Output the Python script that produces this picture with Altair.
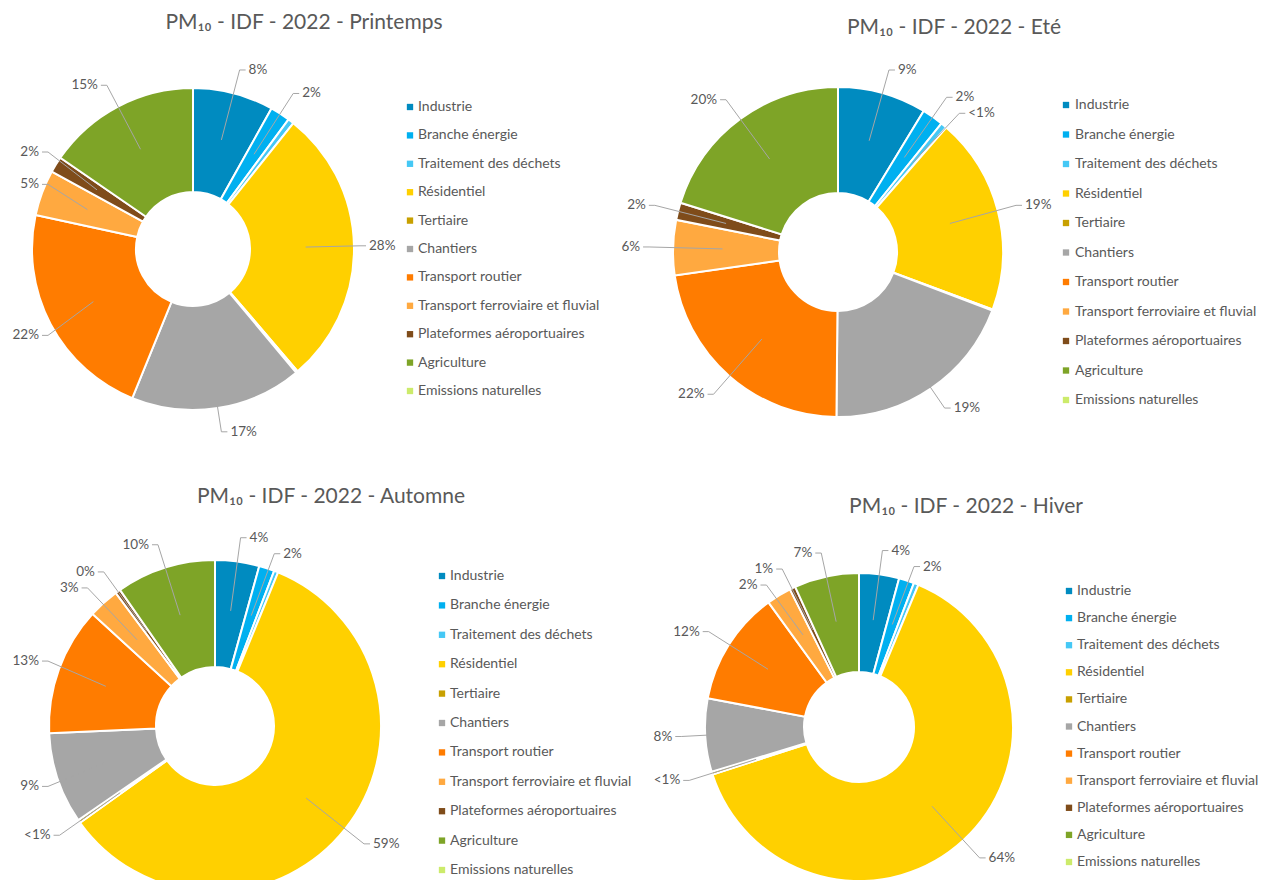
import math
import altair as alt
import pandas as pd

# ---------------- data ----------------
categories = [
    "Industrie", "Branche énergie", "Traitement des déchets", "Résidentiel",
    "Tertiaire", "Chantiers", "Transport routier",
    "Transport ferroviaire et fluvial", "Plateformes aéroportuaires",
    "Agriculture", "Emissions naturelles",
]
colors = [
    "#008BC0", "#00B0F0", "#45C8F5", "#FFD000", "#C8A000", "#A6A6A6",
    "#FF7C00", "#FFA940", "#7F4C1A", "#7EA427", "#CCEB6B",
]
seasons = ["Printemps", "Eté", "Automne", "Hiver"]

printemps_values = [8.1, 2.0, 0.6, 28.0, 0.2, 17.2, 22.2, 4.6, 1.6, 15.4, 0.0]
ete_values = [8.7, 2.1, 0.6, 19.3, 0.1, 19.4, 22.6, 5.4, 1.7, 20.2, 0.0]
automne_values = [4.3, 1.5, 0.4, 58.9, 0.3, 8.9, 12.5, 3.0, 0.5, 9.7, 0.0]
hiver_values = [4.2, 1.6, 0.5, 63.7, 0.3, 7.7, 12.0, 2.6, 0.6, 6.8, 0.0]

printemps_labels = ["8%", "2%", "", "28%", "", "17%", "22%", "5%", "2%", "15%", ""]
ete_labels = ["9%", "2%", "<1%", "19%", "", "19%", "22%", "6%", "2%", "20%", ""]
automne_labels = ["4%", "2%", "", "59%", "<1%", "9%", "13%", "3%", "0%", "10%", ""]
hiver_labels = ["4%", "2%", "", "64%", "<1%", "8%", "12%", "2%", "1%", "7%", ""]

season_values = {"Printemps": printemps_values, "Eté": ete_values,
                 "Automne": automne_values, "Hiver": hiver_values}
season_labels = {"Printemps": printemps_labels, "Eté": ete_labels,
                 "Automne": automne_labels, "Hiver": hiver_labels}

# ---------------- layout (page pixels) ----------------
W, H = 1261, 872
FONT = "Lato"
layout = {
    "Printemps": dict(cx=193, cy=249, R=161, r=57, tx=304, ty=23, lsx=410, ltx=418, ly0=107, ldy=28.4),
    "Eté": dict(cx=838, cy=252, R=165, r=59, tx=954, ty=28, lsx=1066, ltx=1075, ly0=105, ldy=29.5),
    "Automne": dict(cx=215, cy=726, R=166, r=59, tx=331, ty=497, lsx=442, ltx=450, ly0=576, ldy=29.4),
    "Hiver": dict(cx=859, cy=727, R=154, r=55, tx=966, ty=507, lsx=1069, ltx=1077, ly0=591, ldy=27.1),
}

xs = alt.Scale(domain=[8, 8 + W], nice=False, zero=False)
ys = alt.Scale(domain=[8, 8 + H], reverse=True, nice=False, zero=False)
cscale = alt.Scale(domain=categories, range=colors)

# slice table
rows = []
for s in seasons:
    for i, (c, v) in enumerate(zip(categories, season_values[s])):
        rows.append(dict(season=s, idx=i, cat=c, value=v))
slices = pd.DataFrame(rows)

# label / leader geometry derived from the values
lab_rows, line_rows = [], []
lid = 0
for s in seasons:
    lay = layout[s]
    vals = season_values[s]
    total = sum(vals)
    cum = 0.0
    items = []
    for v, lab in zip(vals, season_labels[s]):
        start = cum
        cum += v
        if not lab:
            continue
        a = 2 * math.pi * (start + v / 2) / total
        rl = lay["R"] + 24
        ex = lay["cx"] + rl * math.sin(a)
        ey = lay["cy"] - rl * math.cos(a)
        side = 1 if math.sin(a) >= 0 else -1
        if side < 0:
            ex = max(ex, 48)
        else:
            ex = min(ex, lay["lsx"] - 50)
        items.append(dict(a=a, ex=ex, ey=ey, side=side, text=lab))
    for side in (1, -1):
        grp = sorted([it for it in items if it["side"] == side], key=lambda d: d["ey"])
        for k in range(1, len(grp)):
            if grp[k]["ey"] - grp[k - 1]["ey"] < 16:
                grp[k]["ey"] = grp[k - 1]["ey"] + 16
    for it in items:
        a = it["a"]
        p0x = lay["cx"] + 0.7 * lay["R"] * math.sin(a)
        p0y = lay["cy"] - 0.7 * lay["R"] * math.cos(a)
        pts = [(p0x, p0y), (it["ex"], it["ey"]), (it["ex"] + it["side"] * 6, it["ey"])]
        for k, (px, py) in enumerate(pts):
            line_rows.append(dict(lid=lid, pt=k, x=px, y=py))
        lab_rows.append(dict(x=it["ex"] + it["side"] * 9, y=it["ey"], text=it["text"],
                             side="R" if it["side"] > 0 else "L"))
        lid += 1
labels_df = pd.DataFrame(lab_rows)
lines_df = pd.DataFrame(line_rows)

# legends
leg_rows = []
for s in seasons:
    lay = layout[s]
    for i, c in enumerate(categories):
        leg_rows.append(dict(cat=c, sx=lay["lsx"], tx=lay["ltx"], y=lay["ly0"] + i * lay["ldy"]))
legend_df = pd.DataFrame(leg_rows)

titles_df = pd.DataFrame([dict(x=layout[s]["tx"], y=layout[s]["ty"],
                               text=f"PM₁₀ - IDF - 2022 - {s}") for s in seasons])

# ---------------- chart ----------------
layers = []
for s in seasons:
    lay = layout[s]
    arc = (
        alt.Chart(slices)
        .transform_filter(alt.datum.season == s)
        .mark_arc(outerRadius=lay["R"], innerRadius=lay["r"], stroke="white", strokeWidth=2)
        .encode(
            theta=alt.Theta("value:Q", stack="normalize"),
            order=alt.Order("idx:Q"),
            color=alt.Color("cat:N", scale=cscale, legend=None),
            x=alt.value(lay["cx"] - 8),
            y=alt.value(lay["cy"] - 8),
        )
    )
    layers.append(arc)

leaders = alt.Chart(lines_df).mark_line(color="#A6A6A6", strokeWidth=1).encode(
    x=alt.X("x:Q", scale=xs, axis=None),
    y=alt.Y("y:Q", scale=ys, axis=None),
    detail="lid:N",
    order="pt:Q",
)
lab_r = alt.Chart(labels_df).transform_filter(alt.datum.side == "R").mark_text(
    align="left", baseline="middle", font=FONT, fontSize=13.5, color="#595959"
).encode(x=alt.X("x:Q", scale=xs, axis=None), y=alt.Y("y:Q", scale=ys, axis=None), text="text:N")
lab_l = alt.Chart(labels_df).transform_filter(alt.datum.side == "L").mark_text(
    align="right", baseline="middle", font=FONT, fontSize=13.5, color="#595959"
).encode(x=alt.X("x:Q", scale=xs, axis=None), y=alt.Y("y:Q", scale=ys, axis=None), text="text:N")

leg_sym = alt.Chart(legend_df).mark_square(size=40, opacity=1).encode(
    x=alt.X("sx:Q", scale=xs, axis=None),
    y=alt.Y("y:Q", scale=ys, axis=None),
    color=alt.Color("cat:N", scale=cscale, legend=None),
)
leg_txt = alt.Chart(legend_df).mark_text(
    align="left", baseline="middle", font=FONT, fontSize=14, color="#595959"
).encode(x=alt.X("tx:Q", scale=xs, axis=None), y=alt.Y("y:Q", scale=ys, axis=None), text="cat:N")

titles = alt.Chart(titles_df).mark_text(
    align="center", baseline="middle", font=FONT, fontSize=21, color="#595959"
).encode(x=alt.X("x:Q", scale=xs, axis=None), y=alt.Y("y:Q", scale=ys, axis=None), text="text:N")

chart = (
    alt.layer(*layers, leaders, lab_r, lab_l, leg_sym, leg_txt, titles)
    .properties(width=W, height=H, padding=0, autosize="none")
    .configure_view(stroke=None)
)
chart.save("out.html", embed_options={"renderer": "svg", "actions": False})
